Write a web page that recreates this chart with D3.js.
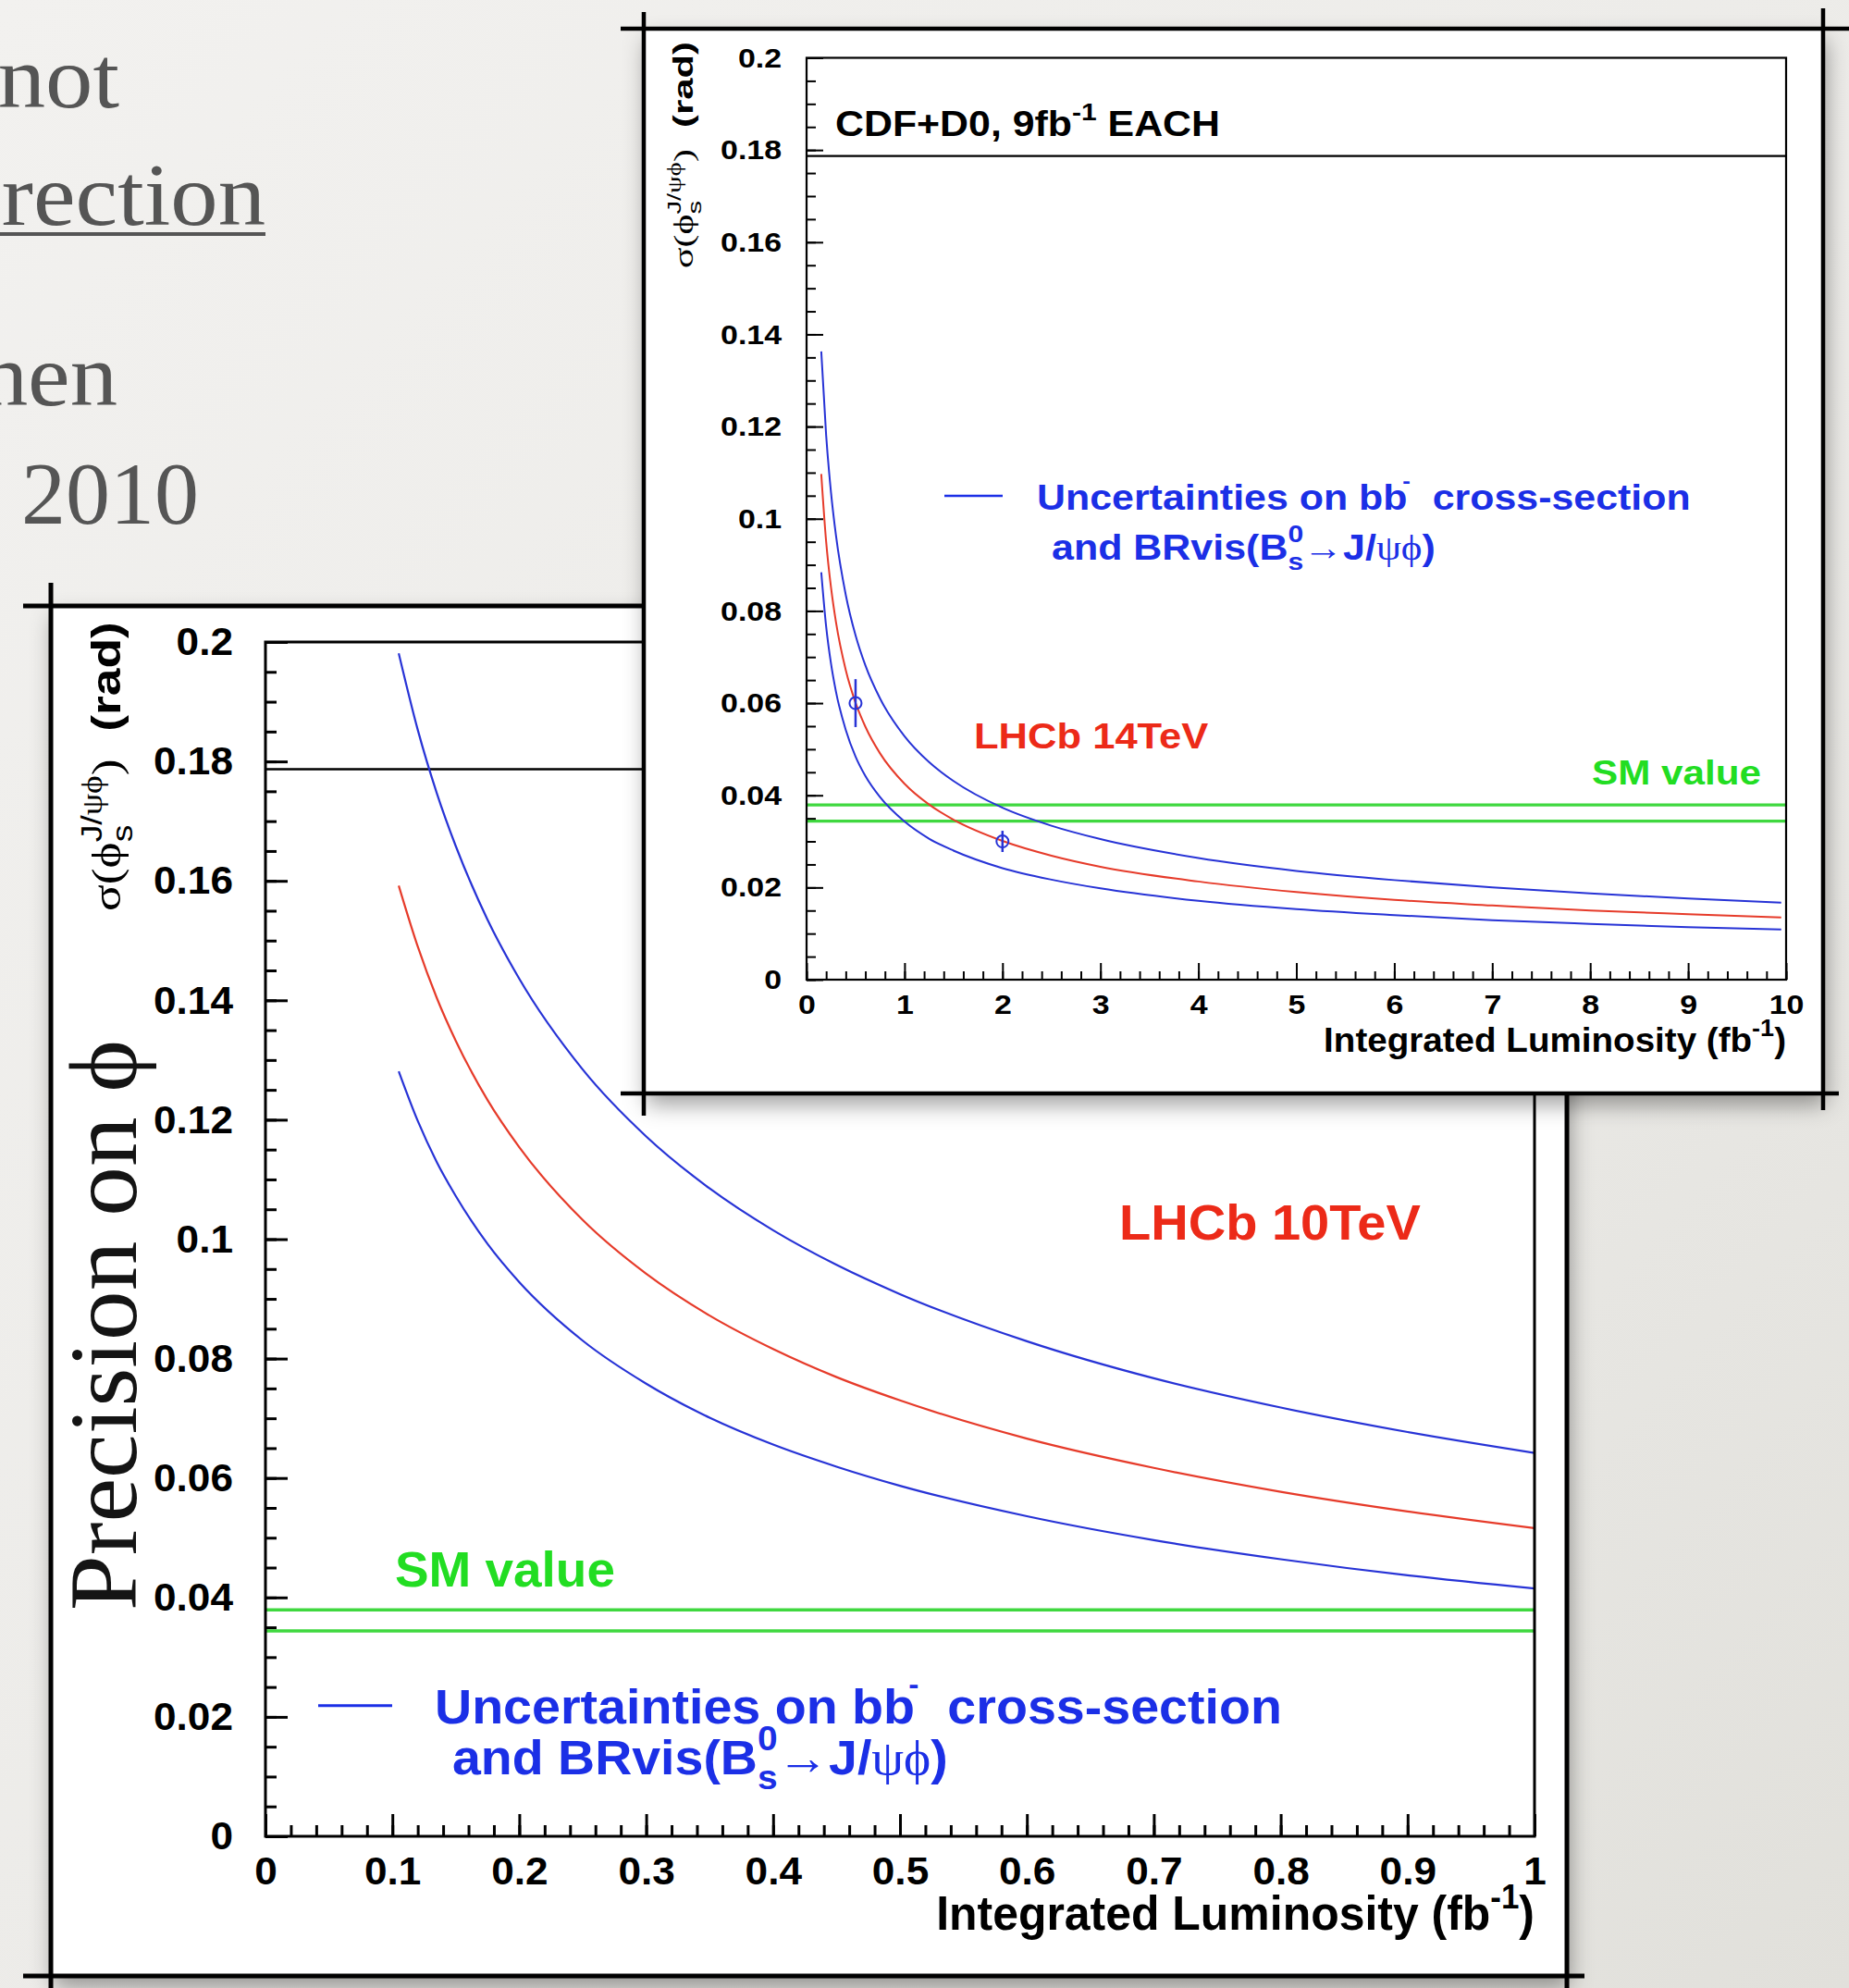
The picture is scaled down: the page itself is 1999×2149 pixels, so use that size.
<!DOCTYPE html>
<html>
<head>
<meta charset="utf-8">
<script src="https://cdn.jsdelivr.net/npm/d3@7"></script>
<style>
  html, body { margin: 0; padding: 0; background: #efeeec; }
  svg { display: block; }
</style>
</head>
<body>
<svg id="slide" width="1999" height="2149"></svg>
<script>
// ---------- projected sigma(phi_s) vs integrated luminosity ----------
// LHCb at 10 TeV (lower plot), luminosity in fb^-1
const lumi10 = [0.105, 0.12, 0.135, 0.15, 0.175, 0.2, 0.25, 0.3, 0.35, 0.4, 0.45, 0.5, 0.6, 0.7, 0.8, 0.9, 1.0];
const sigma10Upper   = [0.1981, 0.1853, 0.1747, 0.1658, 0.1535, 0.1436, 0.1284, 0.1172, 0.1085, 0.1015, 0.0957, 0.0908, 0.0829, 0.0767, 0.0718, 0.0677, 0.0642];
const sigma10Central = [0.1592, 0.1490, 0.1404, 0.1332, 0.1233, 0.1154, 0.1032, 0.0942, 0.0872, 0.0816, 0.0769, 0.0730, 0.0666, 0.0617, 0.0577, 0.0544, 0.0516];
const sigma10Lower   = [0.1281, 0.1198, 0.1129, 0.1072, 0.0992, 0.0928, 0.0830, 0.0758, 0.0701, 0.0656, 0.0619, 0.0587, 0.0536, 0.0496, 0.0464, 0.0437, 0.0415];

// LHCb at 14 TeV (upper plot)
const lumi14 = [0.15, 0.2, 0.25, 0.3, 0.4, 0.5, 0.6, 0.75, 1, 1.25, 1.5, 2, 2.5, 3, 4, 5, 6, 7, 8, 9, 9.95];
const sigma14Upper   = [0.1363, 0.1181, 0.1056, 0.0964, 0.0835, 0.0747, 0.0682, 0.0610, 0.0528, 0.0472, 0.0431, 0.0373, 0.0334, 0.0305, 0.0264, 0.0236, 0.0216, 0.0200, 0.0187, 0.0176, 0.0167];
const sigma14Central = [0.1097, 0.0950, 0.0850, 0.0776, 0.0672, 0.0601, 0.0549, 0.0491, 0.0425, 0.0380, 0.0347, 0.0301, 0.0269, 0.0245, 0.0213, 0.0190, 0.0173, 0.0161, 0.0150, 0.0142, 0.0135];
const sigma14Lower   = [0.0884, 0.0766, 0.0685, 0.0625, 0.0542, 0.0484, 0.0442, 0.0396, 0.0343, 0.0306, 0.0280, 0.0242, 0.0217, 0.0198, 0.0171, 0.0153, 0.0140, 0.0129, 0.0121, 0.0114, 0.0109];

// highlighted 14 TeV points with their spread
const point14Lumi  = [0.5, 2];
const point14Sigma = [0.060, 0.030];
const point14Err   = [0.0052, 0.0023];

// reference levels
const cdfD0Sigma = 0.1787;          // CDF+D0, 9 fb^-1 each
const smBand = [0.0344, 0.0379];    // SM value band

// axis ticks
const yTickValues = [0, 0.02, 0.04, 0.06, 0.08, 0.1, 0.12, 0.14, 0.16, 0.18, 0.2];
const yTickLabels = ["0", "0.02", "0.04", "0.06", "0.08", "0.1", "0.12", "0.14", "0.16", "0.18", "0.2"];
const x10TickValues = [0, 0.1, 0.2, 0.3, 0.4, 0.5, 0.6, 0.7, 0.8, 0.9, 1];
const x10TickLabels = ["0", "0.1", "0.2", "0.3", "0.4", "0.5", "0.6", "0.7", "0.8", "0.9", "1"];
const x14TickValues = [0, 1, 2, 3, 4, 5, 6, 7, 8, 9, 10];
const x14TickLabels = ["0", "1", "2", "3", "4", "5", "6", "7", "8", "9", "10"];

// slide text fragments at the left edge
const slideText = ["not", "rection", "hen", "2010"];

// ---------- styling ----------
const W = 1999, H = 2149;
const SANS = "'Liberation Sans', Arial, Helvetica, sans-serif";
const SERIF = "'Liberation Serif', 'DejaVu Serif', serif";
const BLUE = "#2733d6", RED = "#e63b2a", GREEN = "#3fd83f";
const TBLUE = "#1b2fe6", TRED = "#ec2a18", TGREEN = "#22dd22";
const PHI = "\u03D5", PSI = "\u03C8";

const svg = d3.select("#slide");
const defs = svg.append("defs");

const bg = defs.append("linearGradient").attr("id", "bg")
  .attr("x1", 0).attr("y1", 0).attr("x2", 1).attr("y2", 1);
bg.append("stop").attr("offset", 0).attr("stop-color", "#f2f1ef");
bg.append("stop").attr("offset", 0.55).attr("stop-color", "#ecebe8");
bg.append("stop").attr("offset", 1).attr("stop-color", "#e1e0db");
svg.append("rect").attr("width", W).attr("height", H).attr("fill", "url(#bg)");

const shadow = defs.append("filter").attr("id", "shadow")
  .attr("x", "-5%").attr("y", "-5%").attr("width", "115%").attr("height", "115%");
shadow.append("feDropShadow").attr("dx", 3).attr("dy", 12)
  .attr("stdDeviation", 12).attr("flood-color", "#000").attr("flood-opacity", 0.38);

// ---------- text helper: place, rotate and fit to a given length ----------
function addText(parent, o, build) {
  const t = parent.append("text")
    .attr("font-family", o.family || SANS)
    .attr("font-size", o.size)
    .attr("font-weight", o.weight || 700)
    .attr("fill", o.fill || "#000")
    .attr("text-anchor", o.anchor || "start");
  if (build) build(t, o.size); else t.text(o.text);
  let s = o.sx || 1;
  if (o.width) s = o.width / t.node().getBBox().width;
  t.attr("transform", `translate(${o.x},${o.y})${o.rotate ? ` rotate(${o.rotate})` : ""} scale(${s},1)`);
  return t;
}

function supText(main, sup, after) {
  return (t, F) => {
    t.append("tspan").text(main);
    t.append("tspan").attr("font-size", 0.7 * F).attr("dy", -0.45 * F).text(sup);
    t.append("tspan").attr("dy", 0.45 * F).text(after);
  };
}

function yTitle(t, F) {
  t.append("tspan").attr("font-family", SERIF).attr("font-weight", 400).text("σ(" + PHI);
  const s = t.append("tspan").attr("font-size", 0.7 * F).attr("font-weight", 400).attr("dy", 0.3 * F).text("s");
  const sw = s.node().getComputedTextLength();
  t.append("tspan").attr("font-size", 0.7 * F).attr("font-weight", 400).attr("dx", -sw).attr("dy", -0.75 * F).text("J/");
  t.append("tspan").attr("font-size", 0.7 * F).attr("font-family", SERIF).attr("font-weight", 400).text(PSI + PHI);
  t.append("tspan").attr("font-family", SERIF).attr("font-weight", 400).attr("dy", 0.45 * F).text(")");
  t.append("tspan").text("\u00a0\u00a0(rad)");
}

function legendLine1(t, F) {
  t.append("tspan").text("Uncertainties on b");
  t.append("tspan").text("b");
  t.append("tspan").attr("font-size", 0.6 * F).attr("dx", -0.12 * F).attr("dy", -0.62 * F).text("-");
  t.append("tspan").attr("dy", 0.62 * F).text("\u00a0\u00a0cross-section");
}

function legendLine2(t, F) {
  t.append("tspan").text("and BRvis(B");
  const s = t.append("tspan").attr("font-size", 0.7 * F).attr("dy", 0.3 * F).text("s");
  const sw = s.node().getComputedTextLength();
  t.append("tspan").attr("font-size", 0.7 * F).attr("dx", -sw).attr("dy", -0.8 * F).text("0");
  t.append("tspan").attr("font-family", SERIF).attr("font-weight", 400).attr("dy", 0.5 * F).text("→");
  t.append("tspan").text("J/");
  t.append("tspan").attr("font-family", SERIF).attr("font-weight", 400).text(PSI + PHI);
  t.append("tspan").text(")");
}

// ---------- one plot: frame, axes, reference lines, curves ----------
function drawChart(g, o) {
  const { x, y } = o;
  const [X0, X1] = x.range(), [Y0] = y.range();

  g.selectAll("line.sm").data(smBand).join("line").attr("class", "sm")
    .attr("x1", X0).attr("x2", X1).attr("y1", d => y(d)).attr("y2", d => y(d))
    .attr("stroke", GREEN).attr("stroke-width", o.smW);

  g.append("line").attr("x1", X0).attr("x2", X1)
    .attr("y1", y(cdfD0Sigma)).attr("y2", y(cdfD0Sigma))
    .attr("stroke", "#000").attr("stroke-width", o.refW);

  const line = d3.line().x(d => x(d[0])).y(d => y(d[1])).curve(d3.curveMonotoneX);
  const series = [[o.upper, BLUE], [o.central, RED], [o.lower, BLUE]];
  g.selectAll("path.curve").data(series).join("path").attr("class", "curve")
    .attr("d", d => line(o.lumi.map((l, i) => [l, d[0][i]])))
    .attr("fill", "none").attr("stroke", d => d[1]).attr("stroke-width", o.curveW);

  // axes with ticks pointing into the frame
  const ya = g.append("g").attr("transform", `translate(${X0},0)`);
  ya.append("g").call(d3.axisLeft(y).tickValues(d3.range(0, 0.2001, 0.005)).tickSize(-o.yMin).tickFormat(""));
  const yMajor = ya.append("g").call(d3.axisLeft(y).tickValues(yTickValues).tickSize(-o.yMaj)
    .tickPadding(o.padY).tickFormat((d, i) => yTickLabels[i]));

  const xa = g.append("g").attr("transform", `translate(0,${Y0})`);
  xa.append("g").call(d3.axisBottom(x).tickValues(o.xMinor).tickSize(-o.xMin).tickFormat(""));
  const xMajor = xa.append("g").call(d3.axisBottom(x).tickValues(o.xTicks).tickSize(-o.xMaj)
    .tickPadding(o.padX).tickFormat((d, i) => o.xLabels[i]));

  g.selectAll(".domain").remove();
  g.selectAll(".tick line").attr("stroke", "#000").attr("stroke-width", o.tickW);
  [ya, xa].forEach(a => a.selectAll("g")
    .attr("font-family", SANS).attr("font-size", o.labelSize).attr("font-weight", 700));
  g.selectAll(".tick text").attr("fill", "#000");

  // horizontal fit of tick labels, measured on "0.18"
  let sx = 1;
  yMajor.selectAll(".tick text").each(function (d, i) {
    if (yTickLabels[i] === "0.18") sx = o.labelWidth / this.getBBox().width;
  });
  yMajor.selectAll(".tick text").attr("x", 0)
    .attr("transform", `translate(${-o.padY},0) scale(${sx},1)`);
  xMajor.selectAll(".tick text").attr("transform", `scale(${sx},1)`);

  g.append("rect").attr("x", X0).attr("y", y.range()[1])
    .attr("width", X1 - X0).attr("height", Y0 - y.range()[1])
    .attr("fill", "none").attr("stroke", "#000").attr("stroke-width", o.frameW);
}

// ---------- left slide text ----------
const slidePos = [
  { x: 129, y: 116, anchor: "end", sx: 1.07 },
  { x: 287, y: 243, anchor: "end", sx: 1.07 },
  { x: 127, y: 438, anchor: "end", sx: 1.07 },
  { x: 23,  y: 566, anchor: "start", sx: 1.0 }
];
const slideG = svg.append("g");
slideText.forEach((s, i) => {
  addText(slideG, { x: slidePos[i].x, y: slidePos[i].y, anchor: slidePos[i].anchor,
    family: SERIF, weight: 400, size: 96, fill: "#555", text: s, sx: slidePos[i].sx });
});
slideG.append("rect").attr("x", 0).attr("y", 251).attr("width", 287).attr("height", 4).attr("fill", "#555");

// ---------- lower panel (10 TeV) ----------
const lower = svg.append("g");
lower.append("rect").attr("x", 55).attr("y", 655).attr("width", 1694 - 55).attr("height", 2136 - 655)
  .attr("fill", "#fff").attr("filter", "url(#shadow)");
[[25, 655, 1720, 655], [55, 630, 55, 2149], [1694, 630, 1694, 2149], [25, 2136, 1713, 2136]]
  .forEach(l => lower.append("line").attr("x1", l[0]).attr("y1", l[1]).attr("x2", l[2]).attr("y2", l[3])
    .attr("stroke", "#000").attr("stroke-width", 5));

const x10 = d3.scaleLinear([0, 1], [287, 1659]);
const y10 = d3.scaleLinear([0, 0.2], [1985, 694]);
drawChart(lower.append("g"), {
  x: x10, y: y10, lumi: lumi10, upper: sigma10Upper, central: sigma10Central, lower: sigma10Lower,
  xTicks: x10TickValues, xLabels: x10TickLabels, xMinor: d3.range(0, 1.0001, 0.02),
  yMaj: 24, yMin: 12, xMaj: 24, xMin: 12, tickW: 3, frameW: 3, curveW: 2.2, smW: 3.5, refW: 2.5,
  padY: 35, padX: 21, labelSize: 43, labelWidth: 86
});

addText(lower, { x: 427, y: 1715, size: 53, fill: TGREEN, text: "SM value", width: 238 });
addText(lower, { x: 1210, y: 1340, size: 54, fill: TRED, text: "LHCb 10TeV", width: 326 });
lower.append("line").attr("x1", 344).attr("x2", 424).attr("y1", y10(0.0219)).attr("y2", y10(0.0219))
  .attr("stroke", TBLUE).attr("stroke-width", 3);
addText(lower, { x: 470, y: 1863, size: 52, fill: TBLUE, width: 916 }, legendLine1);
addText(lower, { x: 489, y: 1918, size: 52, fill: TBLUE, width: 536 }, legendLine2);
addText(lower, { x: 1659, y: 2086, size: 52, anchor: "end", width: 647 },
  supText("Integrated Luminosity (fb", "-1", ")"));
addText(lower, { x: 130, y: 985, size: 44, rotate: -90, width: 313 }, yTitle);

addText(svg, { x: 147, y: 1741, size: 104, family: SERIF, weight: 400, fill: "#141414",
  rotate: -90, width: 617, text: "Precision on " + PHI });

// ---------- upper panel (14 TeV) ----------
const upper = svg.append("g");
upper.append("rect").attr("x", 696).attr("y", 31).attr("width", 1971 - 696).attr("height", 1182 - 31)
  .attr("fill", "#fff").attr("filter", "url(#shadow)");
[[671, 31, 1999, 31], [696, 13, 696, 1206], [1971, 9, 1971, 1200], [671, 1182, 1988, 1182]]
  .forEach(l => upper.append("line").attr("x1", l[0]).attr("y1", l[1]).attr("x2", l[2]).attr("y2", l[3])
    .attr("stroke", "#000").attr("stroke-width", 4.5));

const x14 = d3.scaleLinear([0, 10], [872, 1931]);
const y14 = d3.scaleLinear([0, 0.2], [1059, 62.5]);
const g14 = upper.append("g");
drawChart(g14, {
  x: x14, y: y14, lumi: lumi14, upper: sigma14Upper, central: sigma14Central, lower: sigma14Lower,
  xTicks: x14TickValues, xLabels: x14TickLabels, xMinor: d3.range(0, 10.001, 0.2),
  yMaj: 18, yMin: 10, xMaj: 18, xMin: 9, tickW: 2, frameW: 2.2, curveW: 2, smW: 3.2, refW: 2.2,
  padY: 27, padX: 16, labelSize: 30, labelWidth: 66
});

// highlighted points with vertical spread
const pts = point14Lumi.map((l, i) => ({ l, s: point14Sigma[i], e: point14Err[i] }));
g14.selectAll("line.err").data(pts).join("line").attr("class", "err")
  .attr("x1", d => x14(d.l)).attr("x2", d => x14(d.l))
  .attr("y1", d => y14(d.s - d.e)).attr("y2", d => y14(d.s + d.e))
  .attr("stroke", BLUE).attr("stroke-width", 2.5);
g14.selectAll("circle.pt").data(pts).join("circle").attr("class", "pt")
  .attr("cx", d => x14(d.l)).attr("cy", d => y14(d.s)).attr("r", 6.5)
  .attr("fill", "#fff").attr("fill-opacity", 0).attr("stroke", BLUE).attr("stroke-width", 2);

addText(upper, { x: 903, y: 147, size: 38, width: 416 }, supText("CDF+D0, 9fb", "-1", " EACH"));
addText(upper, { x: 1053, y: 809, size: 38, fill: TRED, text: "LHCb 14TeV", width: 254 });
addText(upper, { x: 1721, y: 848, size: 37, fill: TGREEN, text: "SM value", width: 183 });
upper.append("line").attr("x1", 1021).attr("x2", 1084).attr("y1", 536).attr("y2", 536)
  .attr("stroke", TBLUE).attr("stroke-width", 2.5);
addText(upper, { x: 1121, y: 551, size: 38, fill: TBLUE, width: 707 }, legendLine1);
addText(upper, { x: 1137, y: 605, size: 38, fill: TBLUE, width: 415 }, legendLine2);
addText(upper, { x: 1931, y: 1137, size: 37, anchor: "end", width: 500 },
  supText("Integrated Luminosity (fb", "-1", ")"));
addText(upper, { x: 749, y: 290, size: 30, rotate: -90, width: 245 }, yTitle);
</script>
</body>
</html>
